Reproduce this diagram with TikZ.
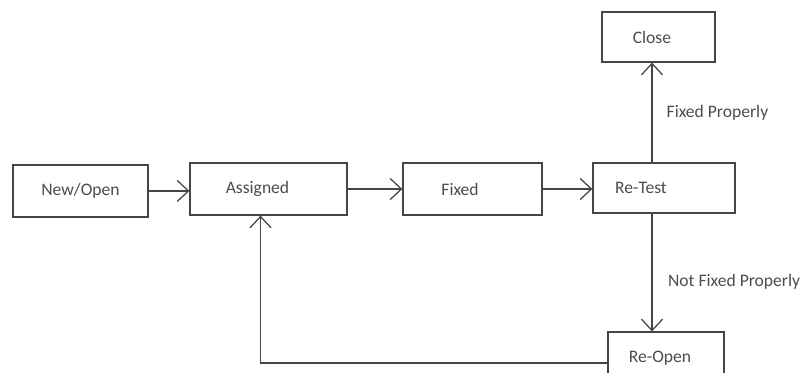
\documentclass[tikz,border=0pt]{standalone}
\usepackage{fontspec}
\setmainfont{Carlito}
\usetikzlibrary{arrows.meta, calc}

\definecolor{boxline}{gray}{0.27}
\definecolor{boxtext}{gray}{0.30}

% trailing room that pushes a box label to the left
\newcommand{\padright}[1]{\rule{#1}{0pt}}

\begin{document}
\begin{tikzpicture}[x=0.025cm, y=0.025cm,
    stage/.style={draw=boxline, line width=0.9pt, fill=white, text=boxtext,
                  minimum height=1.3cm, inner sep=0pt,
                  font=\fontsize{12.5}{15}\selectfont},
    flow/.style={draw=boxline, line width=0.9pt,
                 -{Straight Barb[length=8pt, width=15pt]}},
    note/.style={text=boxtext, inner sep=0pt,
                 font=\fontsize{12.5}{15}\selectfont}]
    \useasboundingbox (0,0) rectangle (800,373);

    % main row
    \node[stage, minimum width=3.375cm] (new) at (80.5,182) {New/Open};
    \node[stage, minimum width=3.925cm] (assigned) at (268.5,184) {Assigned\padright{0.55cm}};
    \node[stage, minimum width=3.475cm] (fixed) at (472.5,184) {Fixed\padright{0.62cm}};
    \node[stage, minimum width=3.55cm, minimum height=1.25cm] (retest) at (664,185) {Re-Test\padright{1.15cm}};

    % outcomes of the retest
    \node[stage, minimum width=2.825cm, minimum height=1.25cm] (close) at (658.5,336) {Close\padright{0.33cm}};
    \node[stage, minimum width=2.9cm] (reopen) at (666,15) {Re-Open\padright{0.3cm}};

    % arrows along the row
    \draw[flow] (new.east) -- (new.east -| assigned.west);
    \draw[flow] (assigned.east) -- (assigned.east -| fixed.west);
    \draw[flow] (fixed.east) -- (fixed.east -| retest.west);

    % up to close, down to re-open
    \coordinate (split) at ($(retest.north)+(-12,0)$);
    \draw[flow] (split) -- (split |- close.south)
        node[note, midway, right=10pt] {Fixed Properly};
    \coordinate (drop) at ($(retest.south)+(-12,0)$);
    \draw[flow] (drop) -- (drop |- reopen.north)
        node[note, pos=0.58, right=11pt] {Not Fixed Properly};

    % back to assigned
    \draw[flow] ($(reopen.west)+(0,-5)$) -| ($(assigned.south)+(-8,0)$);
\end{tikzpicture}
\end{document}
